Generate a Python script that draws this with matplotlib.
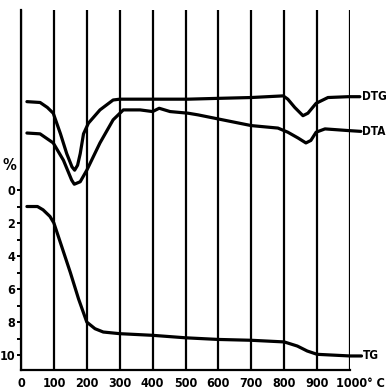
import matplotlib
matplotlib.use("Agg")
import matplotlib.pyplot as plt
from matplotlib.transforms import ScaledTranslation

plt.rcParams['font.family'] = ['DejaVu Sans']
plt.rcParams['font.stretch'] = 'condensed'
plt.rcParams['font.weight'] = 'bold'

# TG curve (% weight loss)
tg_t = [18, 50, 67, 88, 100, 125, 150, 175, 200, 225, 250, 300, 400, 500, 600, 700, 800, 840, 870, 900, 950, 1000, 1035]
tg_v = [1.0, 1.0, 1.2, 1.6, 2.0, 3.5, 5.0, 6.6, 8.0, 8.4, 8.6, 8.7, 8.8, 8.95, 9.05, 9.1, 9.2, 9.45, 9.75, 9.95, 10.0, 10.05, 10.05]

# DTG curve (arbitrary units, drawn above 0)
dtg_t = [18, 58, 80, 98, 120, 139, 155, 163, 172, 180, 190, 205, 240, 280, 300, 400, 508, 600, 700, 797, 811, 832, 857, 872, 897, 933, 994, 1030]
dtg_v = [-5.35, -5.3, -5.0, -4.65, -3.4, -2.2, -1.4, -1.2, -1.5, -2.2, -3.4, -4.05, -4.85, -5.45, -5.5, -5.5, -5.5, -5.55, -5.6, -5.7, -5.5, -5.0, -4.5, -4.65, -5.25, -5.6, -5.65, -5.65]

# DTA curve
dta_t = [18, 58, 98, 129, 154, 162, 180, 200, 240, 280, 311, 362, 400, 420, 453, 508, 538, 600, 700, 781, 811, 842, 866, 881, 897, 924, 994, 1033]
dta_v = [-3.45, -3.4, -2.85, -1.8, -0.6, -0.35, -0.5, -1.2, -2.85, -4.25, -4.85, -4.85, -4.75, -4.95, -4.75, -4.65, -4.55, -4.3, -3.9, -3.75, -3.5, -3.15, -2.85, -3.0, -3.5, -3.7, -3.6, -3.55]

x_ticks = [0, 100, 200, 300, 400, 500, 600, 700, 800, 900, 1000]
x_labels = ['0', '100', '200', '300', '400', '500', '600', '700', '800', '900', '1000° C']
y_ticks = [0, 2, 4, 6, 8, 10]

fig = plt.figure(figsize=(3.88, 3.92), dpi=100)
ax = fig.add_axes([21 / 388, 22 / 392, 329 / 388, 360 / 392])
ax.set_xlim(0, 1000)
ax.set_ylim(10.9, -10.9)

for t in x_ticks:
    ax.axvline(t, color='black', lw=1.6, zorder=1)

kw = dict(color='black', lw=2.3, solid_capstyle='round', solid_joinstyle='round', clip_on=False, zorder=3)
ax.plot(tg_t, tg_v, **kw)
ax.plot(dtg_t, dtg_v, **kw)
ax.plot(dta_t, dta_v, **kw)

ax.text(1036, -5.65, 'DTG', fontsize=8.5, va='center', ha='left')
ax.text(1036, -3.55, 'DTA', fontsize=8.5, va='center', ha='left')
ax.text(1040, 10.05, 'TG', fontsize=8.5, va='center', ha='left')
ax.text(-36, -1.5, '%', fontsize=11, va='center', ha='center')

for s in ['top', 'right']:
    ax.spines[s].set_visible(False)
ax.spines['left'].set_linewidth(1.6)
ax.spines['bottom'].set_linewidth(1.6)

ax.set_xticks(x_ticks)
ax.set_xticklabels(x_labels, fontsize=9)
ax.tick_params(axis='x', length=0, pad=5)
last = ax.get_xticklabels()[-1]
last.set_transform(last.get_transform() + ScaledTranslation(0.1, 0, fig.dpi_scale_trans))

ax.set_yticks(y_ticks)
ax.set_yticks([1, 3, 5, 7, 9], minor=True)
ax.set_yticklabels([str(v) for v in y_ticks], fontsize=9)
ax.tick_params(axis='y', which='both', direction='out', length=3, width=1.4, pad=1)

fig.savefig('out.png', dpi=100)
